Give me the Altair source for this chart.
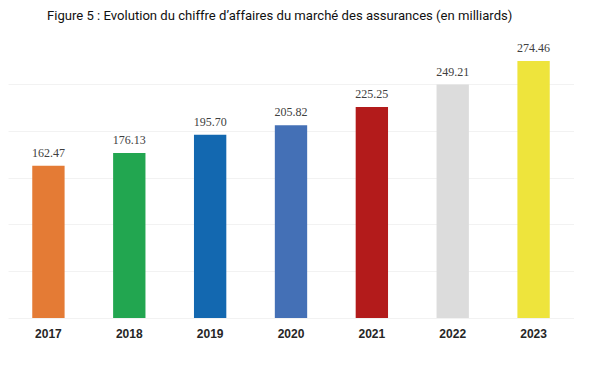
import altair as alt
import pandas as pd

years = ["2017", "2018", "2019", "2020", "2021", "2022", "2023"]
values = [162.47, 176.13, 195.70, 205.82, 225.25, 249.21, 274.46]
colors = ["#E47B35", "#22A650", "#1368B0", "#4470B6", "#B31B1B", "#DCDCDC", "#EEE43C"]
labels = ["162.47", "176.13", "195.70", "205.82", "225.25", "249.21", "274.46"]

df = pd.DataFrame({"year": years, "value": values, "label": labels})

x = alt.X("year:N", sort=years,
          scale=alt.Scale(paddingInner=0.6, paddingOuter=0.3),
          axis=alt.Axis(title=None, labelAngle=0, domain=False, ticks=False, grid=False,
                        labelPadding=10, labelFont="Liberation Sans", labelFontSize=12,
                        labelFontWeight="bold", labelColor="#262626"))
y = alt.Y("value:Q", scale=alt.Scale(domain=[0, 300], nice=False),
          axis=alt.Axis(title=None, labels=False, ticks=False, domain=False,
                        values=[0, 50, 100, 150, 200, 250],
                        gridColor="#F2F2F2", gridWidth=1))

bars = alt.Chart(df).mark_bar().encode(
    x=x, y=y,
    color=alt.Color("year:N", scale=alt.Scale(domain=years, range=colors), legend=None),
)

text = alt.Chart(df).mark_text(baseline="middle", dy=-13, font="Liberation Serif",
                               fontSize=12, color="#404040").encode(
    x=alt.X("year:N", sort=years), y="value:Q", text="label:N")

chart = (bars + text).properties(
    width=566, height=281,
    background="white",
    autosize=alt.AutoSizeParams(type="none"),
    padding={"left": 0, "top": 29, "right": 0, "bottom": 40},
    title=alt.TitleParams(
        "Figure 5 : Evolution du chiffre d’affaires du marché des assurances (en milliards)",
        anchor="start", dx=39, offset=14, font="Roboto",
        fontSize=13.1, fontWeight="normal", color="#111111"),
).configure_view(stroke=None)

chart.save("out.html", embed_options={"renderer": "svg", "actions": False})
